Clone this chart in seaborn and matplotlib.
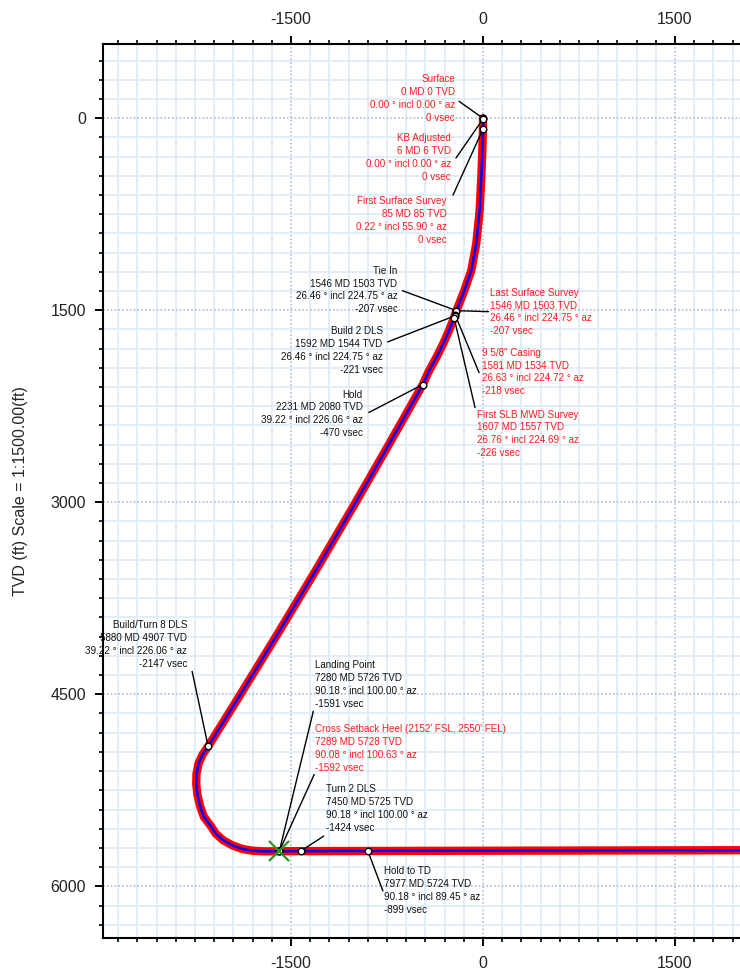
import numpy as np
import pandas as pd
import seaborn as sns
import matplotlib.pyplot as plt
from matplotlib.ticker import MultipleLocator

# well path (vertical section vs TVD)
path_vsec = [0, 0, -2, -5, -13, -26, -52, -91, -145, -207, -221, -262, -310, -365, -425,
             -470, -746, -1000, -1290, -1603, -1907, -2147, -2190, -2222, -2238, -2240,
             -2230, -2208, -2180, -2125, -2088, -2030, -1958, -1880, -1802, -1700,
             -1591, -1424, -899, 0, 1000, 2100]
path_tvd = [0, 85, 140, 250, 461, 719, 977, 1188, 1344, 1503, 1544, 1650, 1760, 1870, 1980,
            2080, 2568, 3010, 3505, 4026, 4521, 4907, 4970, 5040, 5120, 5200,
            5290, 5380, 5458, 5530, 5588, 5640, 5680, 5708, 5722, 5727,
            5726, 5725, 5724, 5722, 5720, 5718]

# annotated stations
station_names = ["Surface", "KB Adjusted", "First Surface Survey", "Tie In",
                 "Last Surface Survey", "9 5/8\" Casing", "Build 2 DLS",
                 "First SLB MWD Survey", "Hold", "Build/Turn 8 DLS", "Landing Point",
                 "Cross Setback Heel (2152' FSL, 2550' FEL)", "Turn 2 DLS", "Hold to TD"]
station_md = [0, 6, 85, 1546, 1546, 1581, 1592, 1607, 2231, 5880, 7280, 7289, 7450, 7977]
station_tvd = [0, 6, 85, 1503, 1503, 1534, 1544, 1557, 2080, 4907, 5726, 5728, 5725, 5724]
station_incl = [0.00, 0.00, 0.22, 26.46, 26.46, 26.63, 26.46, 26.76, 39.22, 39.22,
                90.18, 90.08, 90.18, 90.18]
station_az = [0.00, 0.00, 55.90, 224.75, 224.75, 224.72, 224.75, 224.69, 226.06, 226.06,
              100.00, 100.63, 100.00, 89.45]
station_vsec = [0, 0, 0, -207, -207, -218, -221, -226, -470, -2147, -1591, -1592, -1424, -899]
station_red = [True, True, True, False, True, True, False, True, False, False,
               False, True, False, False]

# label placement: (ha, text dx, text dy, leader dx, leader dy) in pixels from the station
label_layout = [
    ("right", -28, 44, -24, 17),
    ("right", -32, -14, -27, -39),
    ("right", -36, -67, -30, -66),
    ("right", -59, 45, -54, 20),
    ("left", 34, 23, 32, -1),
    ("left", 27, -33, 24, -58),
    ("right", -72, -10, -67, -26),
    ("left", 23, -92, 21, -90),
    ("right", -60, -5, -54, -28),
    ("right", -21, 126, -16, 75),
    ("left", 36, 191, 34, 140),
    ("left", 36, 127, 35, 77),
    ("left", 25, 67, 23, 15),
    ("left", 16, -15, 15, -40),
]

path = pd.DataFrame({"vsec": path_vsec, "tvd": path_tvd})
stations = pd.DataFrame({"vsec": station_vsec, "tvd": station_tvd})

sns.set_theme(style="white")
plt.rcParams["font.family"] = ["Liberation Sans", "DejaVu Sans"]
plt.rcParams["axes.unicode_minus"] = False

fig = plt.figure(figsize=(7.4, 9.71), dpi=100)
ax = fig.add_axes([0.1396, 0.0337, 0.8604, 0.9207])

# grid
ax.xaxis.set_major_locator(MultipleLocator(1500))
ax.yaxis.set_major_locator(MultipleLocator(1500))
ax.xaxis.set_minor_locator(MultipleLocator(150))
ax.yaxis.set_minor_locator(MultipleLocator(150))
ax.grid(which="minor", color="#e2edfa", lw=1.4, ls="-")
ax.grid(which="major", color="#a9bdd8", lw=1.2, ls=(0, (1, 1.3)))
ax.set_axisbelow(True)

# planned (red) and actual (blue) path
sns.lineplot(data=path, x="vsec", y="tvd", sort=False, estimator=None, ax=ax,
             color="#ff0000", lw=6.0, solid_capstyle="round",
             solid_joinstyle="round", zorder=3)
sns.lineplot(data=path, x="vsec", y="tvd", sort=False, estimator=None, ax=ax,
             color="#0000ff", lw=1.8, solid_joinstyle="round", zorder=4)

# leaders and labels
for i, name in enumerate(station_names):
    ha, tdx, tdy, ldx, ldy = label_layout[i]
    xy = (station_vsec[i], station_tvd[i])
    txt = (f"{name}\n{station_md[i]} MD {station_tvd[i]} TVD\n"
           f"{station_incl[i]:.2f} ° incl {station_az[i]:.2f} ° az\n{station_vsec[i]} vsec")
    ax.annotate("", xy=xy, xytext=(ldx, ldy), textcoords="offset pixels",
                arrowprops=dict(arrowstyle="-", color="black", lw=1.0,
                                shrinkA=0, shrinkB=0), zorder=5)
    ax.annotate(txt, xy=xy, xytext=(tdx, tdy), textcoords="offset pixels",
                ha=ha, va="top", multialignment=ha, fontsize=7.1, linespacing=1.36,
                color="#ff1a1a" if station_red[i] else "#111111", zorder=6)

sns.scatterplot(data=stations, x="vsec", y="tvd", ax=ax, s=22, color="white",
                edgecolor="black", linewidth=1.0, zorder=7, legend=False)
ax.plot(station_vsec[10], station_tvd[10], marker="x", ms=15, mew=1.6,
        color="#229a22", zorder=8)

ax.set_xlim(-2966, 2008)
ax.set_ylim(6406, -578)
ax.set_xlabel("")
ax.set_ylabel("TVD (ft) Scale = 1:1500.00(ft)", fontsize=11.5)
ax.yaxis.set_label_coords(-0.118, 0.5)

for side in ["left", "top", "bottom"]:
    ax.spines[side].set_linewidth(1.5)
    ax.spines[side].set_color("black")
ax.spines["right"].set_visible(False)

ax.tick_params(which="both", direction="out", top=True, bottom=True, left=True,
               right=False, labeltop=True, labelbottom=True, colors="black",
               labelsize=11.5)
ax.tick_params(which="major", length=5.5, width=1.4, pad=7)
ax.tick_params(which="minor", length=2.8, width=1.2)
for lab in ax.get_xticklabels() + ax.get_yticklabels():
    lab.set_color("#222222")

fig.savefig("out.png", dpi=100)
